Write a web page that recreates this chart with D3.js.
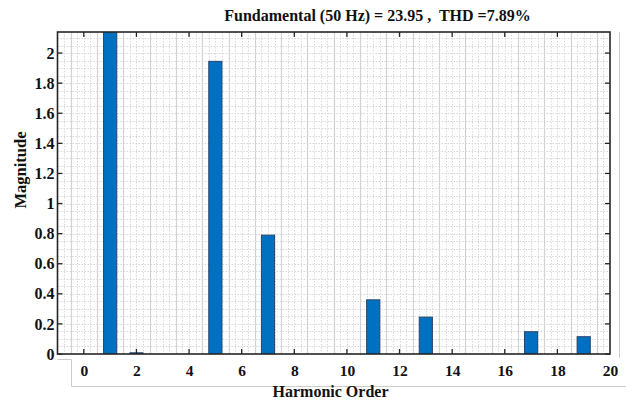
<!DOCTYPE html>
<html>
<head>
<meta charset="utf-8">
<script src="https://cdn.jsdelivr.net/npm/d3@7"></script>
<style>
  html, body { margin: 0; padding: 0; background: #fff; }
  svg { display: block; }
  text { font-family: "Liberation Serif", "Times New Roman", serif; font-weight: bold; fill: #111; }
</style>
</head>
<body>
<svg id="chart" width="626" height="401"></svg>
<script>
// Harmonic spectrum of the current
const harmonicOrders = [1, 2, 5, 7, 11, 13, 17, 19];
const magnitudes     = [23.95, 0.008, 1.945, 0.79, 0.36, 0.245, 0.148, 0.115];
const xTickValues = [0, 2, 4, 6, 8, 10, 12, 14, 16, 18, 20];
const yTickValues = [0, 0.2, 0.4, 0.6, 0.8, 1, 1.2, 1.4, 1.6, 1.8, 2];
const titleText  = "Fundamental (50 Hz) = 23.95 ,  THD =7.89%";
const xLabelText = "Harmonic Order";
const yLabelText = "Magnitude";

const serif = "'Liberation Serif', 'Times New Roman', serif";
const svg = d3.select("#chart");
const plot = { left: 57.5, right: 610, top: 32, bottom: 354 };

const x = d3.scaleLinear().domain([-1, 20]).range([plot.left, plot.right]);
const y = d3.scaleLinear().domain([0, 2.14]).range([plot.bottom, plot.top]);

// outline of the tick-label strip below the axes
const frame = svg.append("g").attr("fill", "none").attr("stroke", "#cccccc").attr("stroke-width", 1);
frame.append("path").attr("d", `M${plot.left},359.5 H71.5 V386.5 H626`);
frame.append("path").attr("d", `M619.5,${plot.top} V358`);

// grid
const grid = svg.append("g");
const vMajor = d3.range(-0.5, 20, 1);
const vMinor = d3.range(-0.75, 20, 0.25).filter(v => {
  const f = ((v % 1) + 1) % 1;
  return Math.abs(f - 0.5) > 1e-6 && v > -1 && v < 20;
});
const hMinor = d3.range(0.05, 2.14, 0.05);
grid.selectAll(".hm").data(hMinor).join("line")
  .attr("x1", plot.left).attr("x2", plot.right)
  .attr("y1", d => Math.round(y(d)) + 0.5).attr("y2", d => Math.round(y(d)) + 0.5)
  .attr("stroke", "#d6d6d6").attr("stroke-width", 1).attr("stroke-dasharray", "1.5,1.5");
grid.selectAll(".vm").data(vMinor).join("line")
  .attr("x1", d => Math.round(x(d)) + 0.5).attr("x2", d => Math.round(x(d)) + 0.5)
  .attr("y1", plot.top).attr("y2", plot.bottom)
  .attr("stroke", "#d9d9d9").attr("stroke-width", 1).attr("stroke-dasharray", "1.5,1.5");
grid.selectAll(".vM").data(vMajor).join("line")
  .attr("x1", d => Math.round(x(d)) + 0.5).attr("x2", d => Math.round(x(d)) + 0.5)
  .attr("y1", plot.top).attr("y2", plot.bottom)
  .attr("stroke", "#d2d2d2").attr("stroke-width", 1.2);

// bars
svg.append("clipPath").attr("id", "clip").append("rect")
  .attr("x", plot.left).attr("y", plot.top)
  .attr("width", plot.right - plot.left).attr("height", plot.bottom - plot.top);
const barW = x(0.5) - x(0);
svg.append("g").attr("clip-path", "url(#clip)")
  .selectAll("rect").data(harmonicOrders.map((h, i) => ({ h, v: magnitudes[i] }))).join("rect")
  .attr("x", d => x(d.h) - barW / 2)
  .attr("y", d => y(d.v))
  .attr("width", barW)
  .attr("height", d => y(0) - y(d.v))
  .attr("fill", "#0070c0")
  .attr("stroke", "#27466a").attr("stroke-width", 1);

// inner ticks on all four sides
const tickLen = 5;
const ticks = svg.append("g").attr("stroke", "#262626").attr("stroke-width", 1.3);
const xt = xTickValues.filter(v => v < 20);
ticks.selectAll(".tb").data(xt).join("line")
  .attr("x1", d => x(d)).attr("x2", d => x(d)).attr("y1", plot.bottom).attr("y2", plot.bottom - tickLen);
ticks.selectAll(".tt").data(xt).join("line")
  .attr("x1", d => x(d)).attr("x2", d => x(d)).attr("y1", plot.top).attr("y2", plot.top + tickLen);
ticks.selectAll(".tl").data(yTickValues).join("line")
  .attr("x1", plot.left).attr("x2", plot.left + tickLen).attr("y1", d => y(d)).attr("y2", d => y(d));
ticks.selectAll(".tr").data(yTickValues).join("line")
  .attr("x1", plot.right).attr("x2", plot.right - tickLen).attr("y1", d => y(d)).attr("y2", d => y(d));

// box
svg.append("rect")
  .attr("x", plot.left).attr("y", plot.top)
  .attr("width", plot.right - plot.left).attr("height", plot.bottom - plot.top)
  .attr("fill", "none").attr("stroke", "#262626").attr("stroke-width", 1.6);

// tick labels through D3 axes
const xAxis = svg.append("g").attr("transform", "translate(0,365)")
  .call(d3.axisBottom(x).tickValues(xTickValues).tickSize(0).tickPadding(0).tickFormat(d3.format("d")))
  .attr("font-family", serif).attr("font-size", 15.5).attr("font-weight", "bold");
xAxis.select(".domain").remove();
xAxis.selectAll("text").attr("dy", "0.71em").attr("fill", "#111");

const yAxis = svg.append("g").attr("transform", `translate(${plot.left - 3},0)`)
  .call(d3.axisLeft(y).tickValues(yTickValues).tickSize(0).tickPadding(0).tickFormat(d => String(+d.toFixed(1))))
  .attr("font-family", serif).attr("font-size", 16).attr("font-weight", "bold");
yAxis.select(".domain").remove();
yAxis.selectAll("text").attr("fill", "#111");

// titles
svg.append("text").attr("x", 377.5).attr("y", 21).attr("text-anchor", "middle")
  .attr("font-size", 16).attr("xml:space", "preserve").text(titleText);
svg.append("text").attr("x", 330.5).attr("y", 397).attr("text-anchor", "middle")
  .attr("font-size", 16).text(xLabelText);
svg.append("text").attr("transform", "translate(26,170) rotate(-90)").attr("text-anchor", "middle")
  .attr("font-size", 16.5).text(yLabelText);
</script>
</body>
</html>
